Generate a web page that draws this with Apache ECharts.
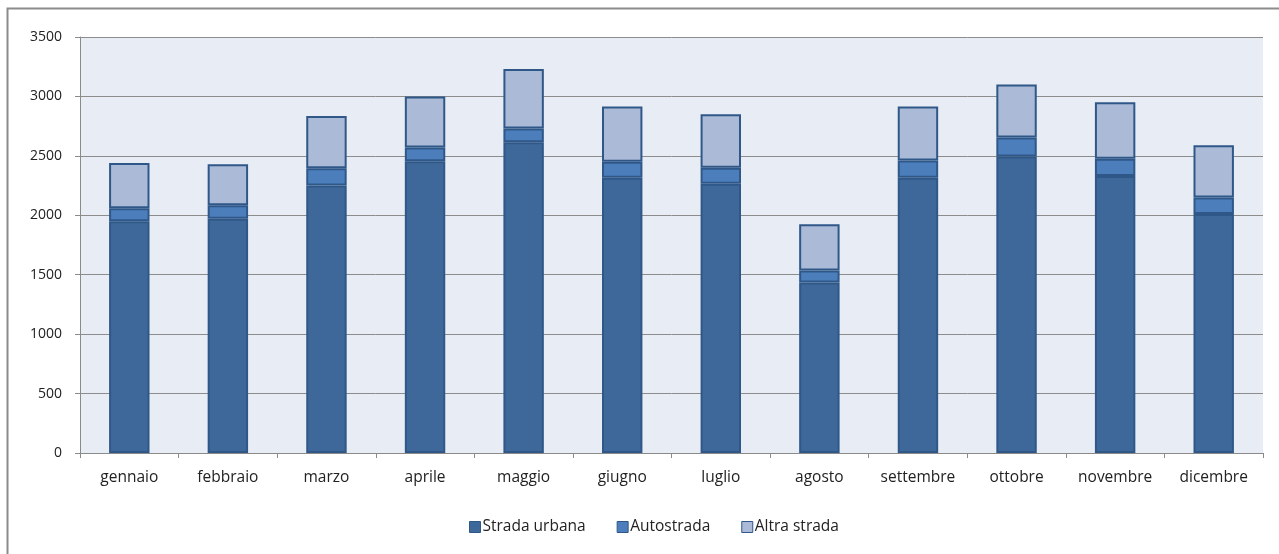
<!DOCTYPE html>
<html>
<head>
<meta charset="utf-8">
<script src="https://cdn.jsdelivr.net/npm/echarts@6/dist/echarts.min.js"></script>
<style>
html,body{margin:0;padding:0;background:#fff;}
#chart{width:1279px;height:554px;}
</style>
</head>
<body>
<div id="chart"></div>
<script>
const months = ['gennaio','febbraio','marzo','aprile','maggio','giugno','luglio','agosto','settembre','ottobre','novembre','dicembre'];
const stradaUrbana = [1950,1970,2250,2455,2615,2315,2265,1435,2315,2495,2330,2010];
const autostrada   = [110,115,145,115,115,135,135,100,145,160,145,140];
const altraStrada  = [380,345,440,430,500,465,450,390,455,445,475,440];
const seriesNames = ['Strada urbana','Autostrada','Altra strada'];
const yTicks = [0,500,1000,1500,2000,2500,3000,3500];

const chart = echarts.init(document.getElementById('chart'), null, {renderer:'canvas'});
const font = '"Open Sans", "Noto Sans", sans-serif';
const border = '#2f5889';
function bar(name, data, color){
  return {
    name, type:'bar', stack:'tot', data, barWidth:'41%',
    itemStyle:{color, borderColor:border, borderWidth:2},
    emphasis:{disabled:true}
  };
}
chart.setOption({
  animation:false,
  graphic:[{type:'rect', shape:{x:7.5,y:8.5,width:1300,height:600}, style:{fill:'none', stroke:'#8c8c8c', lineWidth:2}, z:-10}],
  grid:{left:80, right:16, top:37, bottom:101, show:true, backgroundColor:'#e8ecf4', borderWidth:0},
  legend:{
    data:seriesNames, left:464, top:514, itemWidth:11, itemHeight:11, itemGap:31,
    icon:'rect',
    textStyle:{fontFamily:font, fontSize:15.5, color:'#222', padding:[0,0,0,-3]},
    itemStyle:{borderColor:border, borderWidth:1}
  },
  xAxis:{
    type:'category', data:months,
    axisLine:{lineStyle:{color:'#8a8a8a', width:1}},
    axisTick:{show:true, interval:0, length:5, lineStyle:{color:'#8a8a8a'}},
    axisLabel:{fontFamily:font, fontSize:15.5, color:'#222', margin:17, interval:0, hideOverlap:false}
  },
  yAxis:{
    type:'value', min:yTicks[0], max:yTicks[yTicks.length-1], interval:500,
    axisLine:{show:true, lineStyle:{color:'#8a8a8a'}},
    axisTick:{show:true, length:5, lineStyle:{color:'#8a8a8a'}},
    splitLine:{lineStyle:{color:'#8c8c8c', width:1}},
    axisLabel:{fontFamily:font, fontSize:14, color:'#222', margin:18, formatter:v => String(v)}
  },
  series:[
    bar(seriesNames[0], stradaUrbana, '#3e6899'),
    bar(seriesNames[1], autostrada, '#4c7ebc'),
    bar(seriesNames[2], altraStrada, '#abbad7')
  ]
});
</script>
</body>
</html>
